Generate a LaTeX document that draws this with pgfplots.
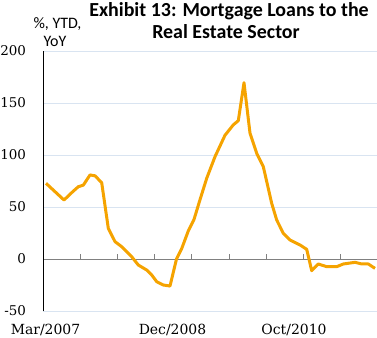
\documentclass[border=0pt]{standalone}
\usepackage{pgfplots}
\pgfplotsset{compat=1.18}
\usepackage{fontspec}
\setmainfont{Carlito}
\newfontfamily\tickfont{DejaVu Serif}
\definecolor{lineorange}{RGB}{245,163,0}
\definecolor{gridblue}{RGB}{217,228,241}
\definecolor{axisgray}{RGB}{128,128,128}
\begin{document}
\begin{tikzpicture}
\useasboundingbox (-43bp,-27bp) rectangle (334bp,311bp);
\begin{axis}[
 scale only axis, width=334bp, height=260bp,
 xmin=43, xmax=377, ymin=-50, ymax=200,
 axis x line=middle, axis y line=left,
 axis line style={-},
 x axis line style={axisgray, line width=0.8bp},
 y axis line style={black, line width=0.9bp},
 hide obscured x ticks=false, hide obscured y ticks=false,
 xtick={43,80,117,154,191,229,266,303,340,377},
 xticklabels={},
 xtick align=inside,
 major tick length=5bp,
 xtick style={axisgray, line width=0.8bp},
 ytick={-50,0,50,100,150,200},
 yticklabels={-50,0,50,100,150,200},
 ytick style={draw=none},
 ymajorgrids, grid style={gridblue, line width=0.8bp},
 yticklabel style={font=\tickfont\fontsize{13.5}{14}\selectfont, anchor=east, xshift=-11bp},
 clip=false,
]
\addplot[lineorange, line width=3bp, line join=round] coordinates {
(46,72.8) (64,56.7) (72.7,64.7) (78.3,69.5) (83.3,71) (90,80.8) (95,80) (101.7,73.4)
(108.3,29.5) (115,16.7) (121.7,11.8) (131.7,2.2) (138.3,-5.8) (146.7,-10.6) (151.7,-15.4)
(156.7,-21.8) (163.3,-25) (170,-26) (176.5,0) (181.7,10) (188.3,27) (194,38) (200,57)
(206.7,77.6) (215,98.4) (225,119) (233.3,129) (238.3,133) (244,169.5) (250,121)
(256.7,101.6) (263.3,88.8) (271.7,53.5) (276.7,37.5) (283.3,24.7) (290,18.3) (300,13.5)
(306.7,9.3) (311.7,-11.2) (318.3,-4.8) (326.7,-7.4) (336.7,-7.4) (343.3,-4.8) (355,-3.2)
(361.7,-4.8) (368.3,-4.8) (375,-9)
};
\end{axis}
\node[font=\tickfont\fontsize{14}{14}\selectfont] at (2.5bp,-19bp) {Mar/2007};
\node[font=\tickfont\fontsize{14}{14}\selectfont] at (129.5bp,-19bp) {Dec/2008};
\node[font=\tickfont\fontsize{14}{14}\selectfont] at (251bp,-19bp) {Oct/2010};
\node[anchor=base, font=\bfseries\fontsize{20}{22}\selectfont, inner sep=0pt] at (186bp,294bp) {Exhibit 13: Mortgage Loans to the};
\node[anchor=base, font=\bfseries\fontsize{20}{22}\selectfont, inner sep=0pt] at (183bp,272bp) {Real Estate Sector};
\node[anchor=base, font=\fontsize{16}{16}\selectfont, inner sep=0pt] at (14.5bp,282bp) {\%, YTD,};
\node[anchor=base, font=\fontsize{16}{16}\selectfont, inner sep=0pt] at (12bp,264bp) {YoY};
\end{tikzpicture}
\end{document}
